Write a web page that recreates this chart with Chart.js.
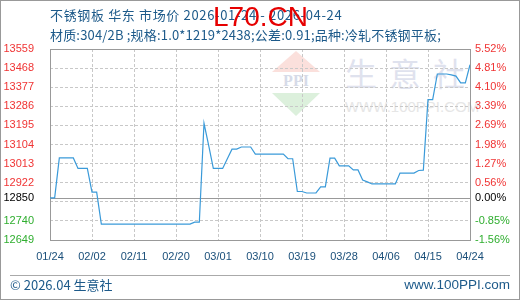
<!DOCTYPE html>
<html>
<head>
<meta charset="utf-8">
<script src="https://cdn.jsdelivr.net/npm/chart.js@4.4.1/dist/chart.umd.min.js"></script>
<style>
  body { margin: 0; background: #fff; }
  #wrap { position: relative; width: 520px; height: 300px; overflow: hidden; background: #fff; }
  #wrap div { position: absolute; white-space: nowrap; }
  canvas { position: absolute; left: 0; top: 0; }
  .t { color: #1d5a8a; font-family: "Noto Sans CJK SC", sans-serif; font-size: 13px; line-height: 16px; }
  #frame { left: 0; top: 0; width: 520px; height: 300px; box-sizing: border-box; border: 1px solid #999; }
</style>
</head>
<body>
<div id="wrap">
  <!-- faint watermark behind the plot -->
  <div style="left:272px;top:51px;width:0;height:0;border-left:24px solid transparent;border-right:24px solid transparent;border-bottom:21px solid #fbe0dc;"></div>
  <div style="left:272px;top:73px;width:48px;text-align:center;font:bold 16px 'Liberation Serif',serif;color:#d6dbe8;line-height:16px;">PPI</div>
  <div style="left:272px;top:93px;width:0;height:0;border-left:24px solid transparent;border-right:24px solid transparent;border-top:23px solid #dcf0dc;"></div>
  <div style="left:345px;top:54px;font:32px 'Noto Sans CJK SC';line-height:36px;letter-spacing:12px;color:#dfe2ee;">生意社</div>
  <div style="left:345px;top:99px;font:15px 'Liberation Sans',sans-serif;line-height:16px;color:#e6e6e6;">WWW.100PPI.COM</div>

  <canvas id="chart" width="520" height="300"></canvas>

  <div class="t" style="left:50px;top:7px;letter-spacing:0.65px;">不锈钢板 华东 市场价 2026-01-24 - 2026-04-24</div>
  <div class="t" style="left:50px;top:27px;letter-spacing:0.18px;">材质:304/2B ;规格:1.0*1219*2438;公差:0.91;品种:冷轧不锈钢平板;</div>
  <div style="left:213px;top:1px;font:28px 'Liberation Sans',sans-serif;line-height:32px;color:#e60000;">L70.CN</div>

  <div style="left:10px;top:275px;width:500px;height:0;border-top:1px solid #aaa;"></div>
  <div class="t" style="left:10px;top:277px;">© 2026.04 生意社</div>
  <div style="right:10px;top:277px;font:13.5px 'Liberation Sans',sans-serif;line-height:16px;color:#1d5a8a;">www.100PPI.com</div>
  <div id="frame"></div>
</div>
<script>
// tick labels
var xTickDays = [0, 9, 18, 27, 36, 45, 54, 63, 72, 81, 90];
var xTickLabels = ['01/24', '02/02', '02/11', '02/20', '03/01', '03/10', '03/19', '03/28', '04/06', '04/15', '04/24'];
var yGridValues = [13559, 13468, 13377, 13286, 13195, 13104, 13013, 12922, 12850, 12831, 12740, 12649];
var yLeftLabels = ['13559', '13468', '13377', '13286', '13195', '13104', '13013', '12922', '12850', '', '12740', '12649'];
var yRightLabels = ['5.52%', '4.81%', '4.10%', '3.39%', '2.69%', '1.98%', '1.27%', '0.56%', '0.00%', '', '-0.85%', '-1.56%'];
var baseValue = 12850;

// daily price, 2026-01-24 .. 2026-04-24
var prices = [
  12850, 12850, 13040, 13040, 13040, 13040, 12990, 12990, 12990, 12877,
  12877, 12725, 12725, 12725, 12725, 12725, 12725, 12725, 12725, 12725,
  12725, 12725, 12725, 12725, 12725, 12725, 12725, 12725, 12725, 12725,
  12725, 12734, 12734, 13205, 13100, 12990, 12990, 12990, 13036, 13082,
  13082, 13092, 13092, 13092, 13058, 13058, 13058, 13058, 13058, 13058,
  13058, 13036, 13036, 12880, 12880, 12873, 12873, 12873, 12902, 12902,
  13039, 13039, 13002, 13002, 13002, 12983, 12983, 12935, 12926, 12916,
  12916, 12916, 12916, 12916, 12916, 12968, 12968, 12968, 12968, 12980,
  12982, 13318, 13318, 13440, 13440, 13440, 13436, 13430, 13398, 13398,
  13484
];

var colours = {
    line: '#3a9ad9',
    grid: '#c8c8c8',
    frame: '#999999',
    up: '#f03434',
    down: '#2fae2f',
    base: '#000000',
    xText: '#1a4f7a'
};

function labelColour(v) {
    if (v === baseValue) return colours.base;
    return v > baseValue ? colours.up : colours.down;
}

//frame round the plot and the solid base line
var framePlugin = {
    id: 'frame',
    beforeDatasetsDraw: function (chart) {
        var a = chart.chartArea, ctx = chart.ctx;
        var yb = Math.round(chart.scales.y.getPixelForValue(baseValue)) + 0.5;
        ctx.save();
        ctx.strokeStyle = colours.frame;
        ctx.lineWidth = 1;
        ctx.beginPath();
        ctx.moveTo(a.left, yb);
        ctx.lineTo(a.right, yb);
        ctx.stroke();
        ctx.strokeRect(Math.round(a.left) + 0.5, Math.round(a.top) + 0.5, Math.round(a.right - a.left), Math.round(a.bottom - a.top));
        ctx.restore();
    }
};

var yTicks = function (scale) {
    scale.ticks = yGridValues.map(function (v) { return { value: v }; });
};

var ctx = document.getElementById('chart').getContext('2d');
var myChart = new Chart(ctx, {
    type: 'line',
    data: {
        datasets: [{
            data: prices.map(function (v, i) { return { x: i, y: v }; }),
            borderColor: colours.line,
            borderWidth: 1.2,
            pointRadius: 0,
            tension: 0,
            fill: false
        }]
    },
    options: {
        responsive: false,
        animation: false,
        events: [],
        layout: { padding: { top: 49, left: 0, right: 0, bottom: 0 } },
        plugins: { legend: { display: false }, tooltip: { enabled: false } },
        scales: {
            x: {
                type: 'linear',
                min: 0,
                max: 90,
                afterBuildTicks: function (scale) {
                    scale.ticks = xTickDays.map(function (d) { return { value: d }; });
                },
                afterFit: function (scale) { scale.height = 60; },
                grid: { color: colours.grid, drawTicks: false },
                border: { display: false, dash: [3, 2] },
                ticks: {
                    padding: 10,
                    maxRotation: 0,
                    autoSkip: false,
                    color: colours.xText,
                    font: { family: 'Liberation Sans', size: 11 },
                    callback: function (v) {
                        var k = xTickDays.indexOf(v);
                        return k >= 0 ? xTickLabels[k] : '';
                    }
                }
            },
            y: {
                position: 'left',
                min: 12649,
                max: 13559,
                afterBuildTicks: yTicks,
                afterFit: function (scale) { scale.width = 50; },
                grid: {
                    drawTicks: false,
                    color: function (c) {
                        return c.tick && c.tick.value === baseValue ? 'rgba(0,0,0,0)' : colours.grid;
                    }
                },
                border: { display: false, dash: [3, 2] },
                ticks: {
                    padding: 16,
                    autoSkip: false,
                    font: { family: 'Liberation Sans', size: 11 },
                    color: function (c) { return labelColour(c.tick.value); },
                    callback: function (v) {
                        return yLeftLabels[yGridValues.indexOf(v)];
                    }
                }
            },
            y2: {
                position: 'right',
                min: 12649,
                max: 13559,
                afterBuildTicks: yTicks,
                afterFit: function (scale) { scale.width = 50; },
                grid: { drawOnChartArea: false, drawTicks: false },
                border: { display: false },
                ticks: {
                    padding: 5,
                    autoSkip: false,
                    font: { family: 'Liberation Sans', size: 11 },
                    color: function (c) { return labelColour(c.tick.value); },
                    callback: function (v) {
                        return yRightLabels[yGridValues.indexOf(v)];
                    }
                }
            }
        }
    },
    plugins: [framePlugin]
});
</script>
</body>
</html>
